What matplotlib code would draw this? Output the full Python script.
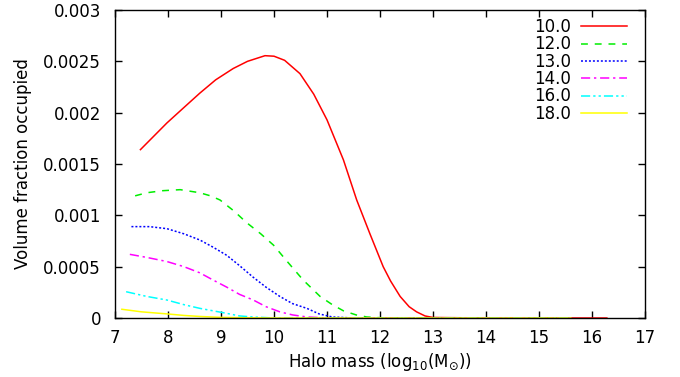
import matplotlib
matplotlib.use("Agg")
import matplotlib.pyplot as plt

plt.rcParams['font.family'] = ['DejaVu Sans']
plt.rcParams['mathtext.fontset'] = 'dejavusans'

labels = ["10.0", "12.0", "13.0", "14.0", "16.0", "18.0"]
colors = ["#ff0000", "#00ee00", "#0000ff", "#ff00ff", "#00ffff", "#ffff00"]

red_x = [7.48, 7.98, 8.3, 8.6, 8.9, 9.23, 9.5, 9.83, 10.0, 10.2, 10.49, 10.75, 11.0, 11.31, 11.56,
         11.81, 12.06, 12.2, 12.38, 12.55, 12.69, 12.85, 13.0, 14.0, 15.0, 16.28]
red_y = [0.00164, 0.00190, 0.00205, 0.00219, 0.00232, 0.00243, 0.00250, 0.002555, 0.00255, 0.00251,
         0.00238, 0.00218, 0.00193, 0.00154, 0.00115, 0.00082, 0.00050, 0.00036, 0.00021, 0.00011,
         0.00006, 0.00002, 0.000005, 0.0, 0.0, 0.0]

green_x = [7.38, 7.6, 7.9, 8.23, 8.6, 8.8, 8.98, 9.25, 9.48, 9.75, 9.99, 10.25, 10.55, 10.87, 11.1,
           11.31, 11.55, 11.75, 12.1, 15.6]
green_y = [0.00119, 0.00122, 0.00124, 0.00125, 0.00122, 0.00119, 0.00115, 0.00104, 0.00093, 0.00082,
           0.00071, 0.00055, 0.00037, 0.00021, 0.00013, 0.00007, 0.00003, 0.00001, 0.0, 0.0]

blue_x = [7.31, 7.65, 7.98, 8.3, 8.6, 8.85, 9.11, 9.35, 9.6, 9.85, 10.11, 10.35, 10.62, 10.85, 11.1,
          11.5, 15.6]
blue_y = [0.00089, 0.00089, 0.00087, 0.00082, 0.00076, 0.00069, 0.00061, 0.00051, 0.00040, 0.00030,
          0.00021, 0.00014, 0.000094, 0.00004, 0.00001, 0.0, 0.0]

magenta_x = [7.28, 7.6, 7.98, 8.3, 8.6, 8.85, 9.11, 9.35, 9.61, 9.85, 10.11, 10.35, 10.62, 11.0, 15.6]
magenta_y = [0.00062, 0.00059, 0.00055, 0.00050, 0.00044, 0.00037, 0.00030, 0.00023, 0.000175,
             0.00011, 0.00006, 0.00003, 0.00001, 0.0, 0.0]

cyan_x = [7.21, 7.6, 7.98, 8.3, 8.6, 8.85, 9.11, 9.35, 9.6, 10.0, 15.6]
cyan_y = [0.000256, 0.00021, 0.000175, 0.00013, 0.000094, 0.00007, 0.000045, 0.00002, 0.00001, 0.0, 0.0]

yellow_x = [7.13, 7.5, 7.98, 8.3, 8.6, 9.0, 9.5, 10.0, 15.6]
yellow_y = [0.000085, 0.00006, 0.00004, 0.000025, 0.000015, 0.000006, 0.000002, 0.0, 0.0]

series_x = [red_x, green_x, blue_x, magenta_x, cyan_x, yellow_x]
series_y = [red_y, green_y, blue_y, magenta_y, cyan_y, yellow_y]
dashes = [None, (4.5, 4.5), (1.3, 1.3), (6, 2.5, 1.5, 2.5), (6, 2, 1.5, 2, 1.5, 2), None]

xticks = [7, 8, 9, 10, 11, 12, 13, 14, 15, 16, 17]
yticks = [0, 0.0005, 0.001, 0.0015, 0.002, 0.0025, 0.003]
ytick_labels = ["0", "0.0005", "0.001", "0.0015", "0.002", "0.0025", "0.003"]

FS = 12

fig = plt.figure(figsize=(6.8, 3.77), dpi=100)
ax = fig.add_axes([115/680, 1 - 318/377, 530/680, 308/377])

for xs, ys, lab, c, d in zip(series_x, series_y, labels, colors, dashes):
    line, = ax.plot(xs, ys, color=c, lw=1.1, label=lab)
    if d is not None:
        line.set_dashes(d)

ax.set_xlim(7, 17)
ax.set_ylim(0, 0.003)
ax.set_xticks(xticks)
ax.set_yticks(yticks)
ax.set_yticklabels(ytick_labels)
ax.tick_params(direction='in', top=True, right=True, labelsize=FS, length=5, width=1)
ax.tick_params(axis='y', pad=10)
ax.tick_params(axis='x', pad=8)
for s in ax.spines.values():
    s.set_linewidth(1.0)

ax.set_xlabel(r"Halo mass (log$_{10}$(M$_{\odot}$))", fontsize=FS, labelpad=3)
ax.set_ylabel("Volume fraction occupied", fontsize=FS, labelpad=8)

leg = ax.legend(loc='upper right', frameon=False, markerfirst=False, fontsize=FS,
                handlelength=2.75, handletextpad=0.6, labelspacing=-0.04,
                borderaxespad=0.0, borderpad=0.0, bbox_to_anchor=(0.966, 0.974))
for t in leg.get_texts():
    t.set_ha('right')

fig.savefig("out.png", dpi=100)
